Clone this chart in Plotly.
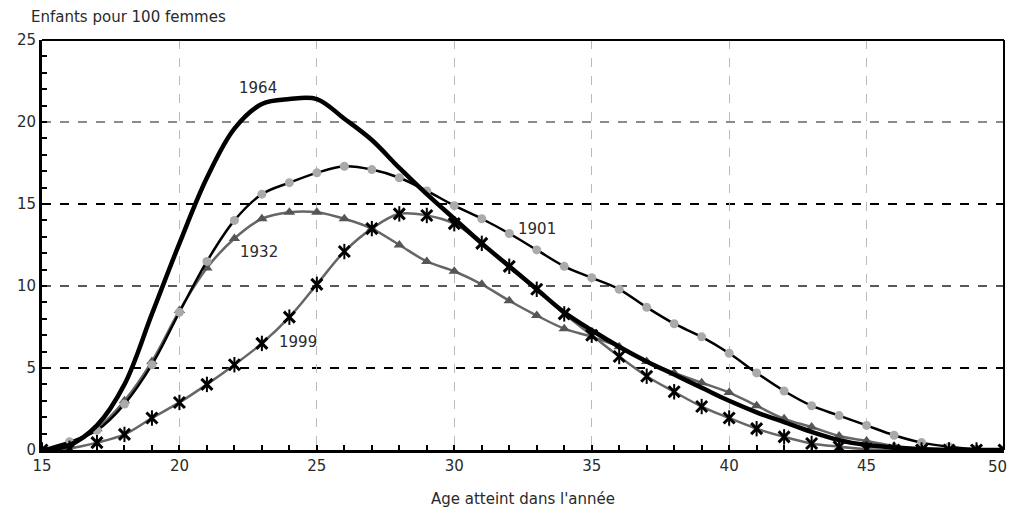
"""Taux de fécondité par âge, générations 1901, 1932, 1964 et 1999."""

import plotly.graph_objects as go

ages = list(range(15, 51))

# enfants pour 100 femmes
y1901 = [0.0, 0.5, 1.2, 2.8, 5.2, 8.4, 11.5, 14.0, 15.6, 16.3, 16.9, 17.3, 17.1, 16.6,
         15.8, 14.9, 14.1, 13.2, 12.2, 11.2, 10.5, 9.8, 8.7, 7.7, 6.9, 5.9, 4.7, 3.6,
         2.7, 2.1, 1.5, 0.9, 0.45, 0.2, 0.05, 0.0]
y1932 = [0.0, 0.3, 1.3, 3.0, 5.4, 8.5, 11.1, 12.9, 14.1, 14.5, 14.5, 14.1, 13.5, 12.5,
         11.5, 10.9, 10.1, 9.1, 8.2, 7.4, 6.9, 6.3, 5.4, 4.7, 4.1, 3.5, 2.7, 1.9,
         1.4, 0.85, 0.55, 0.25, 0.1, 0.05, 0.0, 0.0]
y1964 = [0.0, 0.3, 1.5, 4.0, 8.3, 12.6, 16.6, 19.6, 21.1, 21.4, 21.4, 20.2, 18.9, 17.2,
         15.6, 14.1, 12.6, 11.2, 9.8, 8.4, 7.3, 6.3, 5.4, 4.6, 3.8, 3.0, 2.3, 1.7,
         1.1, 0.6, 0.3, 0.15, 0.05, 0.0, 0.0, 0.0]
y1999 = [0.0, 0.1, 0.45, 0.95, 1.95, 2.9, 4.0, 5.2, 6.5, 8.1, 10.1, 12.1, 13.5, 14.4,
         14.3, 13.8, 12.6, 11.2, 9.8, 8.3, 7.0, 5.7, 4.5, 3.55, 2.65, 1.95, 1.3, 0.8,
         0.4, 0.2, 0.05, 0.0, 0.0, 0.0, 0.0, 0.0]

# graduations de l'axe des âges (la dernière est posée à part, au bord)
x_ticks = [15, 20, 25, 30, 35, 40, 45]
x_last_tick = 50

# étiquettes des générations
label_text = ["1964", "1901", "1932", "1999"]
label_x = [22.85, 33.0, 22.9, 24.3]
label_y = [22.1, 13.5, 12.1, 6.6]

grid_y = [5, 10, 15, 20]
grid_colors = ["#000000", "#222222", "#000000", "#666666"]
grid_widths = [2, 1.3, 2, 1.5]

TXT = "#2a2a2a"

fig = go.Figure()

fig.add_trace(go.Scatter(
    x=ages, y=y1999, mode="lines", line=dict(color="#666666", width=2.5, shape="spline"),
    showlegend=False, hoverinfo="skip",
))
fig.add_trace(go.Scatter(
    x=ages, y=y1932, mode="lines+markers",
    line=dict(color="#666666", width=2.5, shape="spline"),
    marker=dict(symbol="triangle-up", size=10, color="#555555"),
    showlegend=False,
))
fig.add_trace(go.Scatter(
    x=ages, y=y1901, mode="lines+markers",
    line=dict(color="#000000", width=2.5, shape="spline"),
    marker=dict(symbol="circle", size=9, color="#aaaaaa"),
    showlegend=False,
))
fig.add_trace(go.Scatter(
    x=ages, y=y1964, mode="lines",
    line=dict(color="#000000", width=4.5, shape="spline"),
    showlegend=False,
))
# marqueurs étoile de 1999 : un X plus un trait vertical
fig.add_trace(go.Scatter(
    x=ages, y=y1999, mode="markers",
    marker=dict(symbol="x-thin-open", size=11, color="#000000",
                line=dict(color="#000000", width=3)),
    showlegend=False,
))
fig.add_trace(go.Scatter(
    x=ages, y=y1999, mode="markers",
    marker=dict(symbol="line-ns-open", size=11, color="#000000",
                line=dict(color="#000000", width=2)),
    showlegend=False, hoverinfo="skip",
))

for txt, lx, ly in zip(label_text, label_x, label_y):
    fig.add_annotation(x=lx, y=ly, text=txt, showarrow=False,
                       font=dict(size=15, color=TXT))

for gy, gc, gw in zip(grid_y, grid_colors, grid_widths):
    fig.add_shape(type="line", xref="x", yref="y", x0=15, x1=50, y0=gy, y1=gy,
                  line=dict(color=gc, width=gw, dash="dash"), layer="below")

# cadre fin en haut et à droite
fig.add_shape(type="line", xref="paper", yref="paper", x0=0, x1=1, y0=1, y1=1,
              line=dict(color="#000000", width=2))
fig.add_shape(type="line", xref="paper", yref="paper", x0=1, x1=1, y0=0, y1=1,
              line=dict(color="#000000", width=2))

fig.add_annotation(x=-0.0135, y=1.056, xref="paper", yref="paper",
                   text="Enfants pour 100 femmes",
                   showarrow=False, xanchor="left", yanchor="middle",
                   font=dict(size=15, color=TXT))

# « 50 » collé au bord droit de la figure, sinon il serait coupé
fig.add_annotation(x=x_last_tick, y=0, xref="x", yref="paper", text=str(x_last_tick),
                   showarrow=False, xanchor="right", yanchor="top", xshift=5, yshift=-6,
                   font=dict(size=15, color=TXT))

fig.update_xaxes(
    range=[15, 50], tickvals=x_ticks, automargin=False,
    showgrid=True, gridcolor="#bbbbbb", griddash="dash", gridwidth=1,
    showline=True, linecolor="#000000", linewidth=3,
    ticks="inside", ticklen=5, tickcolor="#000000", tickwidth=1.5,
    minor=dict(dtick=1, ticks="inside", ticklen=5, tickcolor="#000000", showgrid=False),
    zeroline=False,
    title=dict(text="Age atteint dans l'année", font=dict(size=15, color=TXT), standoff=20),
    tickfont=dict(size=15, color=TXT),
)
fig.update_yaxes(
    range=[0, 25], dtick=5, automargin=False,
    showgrid=False, zeroline=False,
    showline=True, linecolor="#000000", linewidth=3,
    ticks="inside", ticklen=5, tickcolor="#000000", tickwidth=1.5,
    minor=dict(dtick=1, ticks="inside", ticklen=5, tickcolor="#000000", showgrid=False),
    tickfont=dict(size=15, color=TXT),
)

# la page garde sa marge de 8 px : la figure tient dans 1001 x 500
fig.update_layout(
    width=1001, height=500,
    margin=dict(l=34, r=5, t=32, b=58),
    plot_bgcolor="white", paper_bgcolor="white",
    font=dict(family="DejaVu Sans, sans-serif"),
    showlegend=False,
)

fig.write_html("out.html", config={"displayModeBar": False})
